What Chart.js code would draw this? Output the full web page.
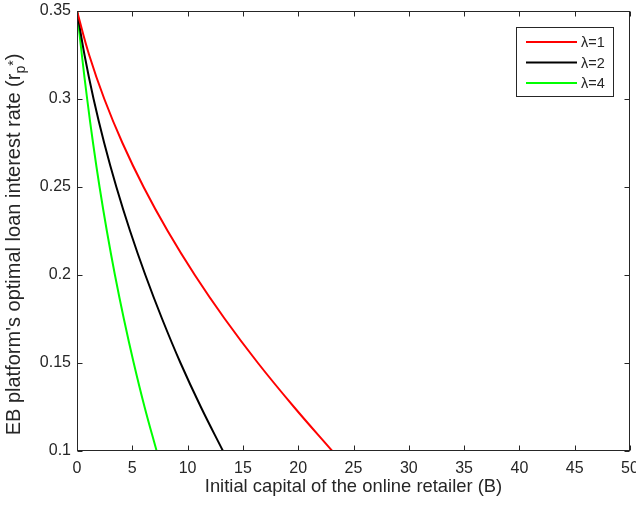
<!DOCTYPE html>
<html>
<head>
<meta charset="utf-8">
<script src="https://cdn.jsdelivr.net/npm/chart.js@4.4.1/dist/chart.umd.min.js"></script>
<style>
html,body{margin:0;padding:0;background:#fff;}
#wrap{width:636px;height:506px;position:relative;}
</style>
</head>
<body>
<div id="wrap"><canvas id="c" width="636" height="506"></canvas></div>
<script>
// ---- data ----
const seriesLabels = ["λ=1", "λ=2", "λ=4"];
const rateLevels   = [0.35, 0.325, 0.3, 0.275, 0.25, 0.225, 0.2, 0.175, 0.15, 0.125, 0.1];
const capitalL1    = [0, 1.10, 2.47, 4.11, 6.02, 8.20, 10.65, 13.37, 16.36, 19.62, 23.08];
const capitalL2    = [0, 0.68, 1.50, 2.46, 3.56, 4.80, 6.18, 7.70, 9.36, 11.20, 13.2];
const capitalL4    = [0, 0.44, 0.92, 1.45, 2.04, 2.70, 3.43, 4.24, 5.13, 6.11, 7.2];
const xTickLabels  = ["0","5","10","15","20","25","30","35","40","45","50"];
const yTickLabels  = ["0.1","0.15","0.2","0.25","0.3","0.35"];
const xTitle = "Initial capital of the online retailer (B)";
const yTitleMain = "EB platform's optimal loan interest rate (r";
const yTitleSub = "p";
const yTitleSup = "*";
const yTitleEnd = ")";

const colors = ["#ff0000", "#000000", "#00ff00"];
const axisColor = "#262626";
const FONT = "'Liberation Sans', Arial, Helvetica, sans-serif";

function pts(xs, ys){ return xs.map((x,i)=>({x:x, y:ys[i]})).sort((a,b)=>a.x-b.x); }

const allCapital = [capitalL1, capitalL2, capitalL4];

const frame = {
  id: 'frame',
  afterDraw(chart){
    const ctx = chart.ctx, a = chart.chartArea;
    const xs = chart.scales.x, ys = chart.scales.y;
    ctx.save();
    ctx.strokeStyle = axisColor; ctx.lineWidth = 1;
    const L = Math.round(a.left)+0.5, R = Math.round(a.right)-0.5, T = Math.round(a.top)+0.5, B = Math.round(a.bottom)-0.5;
    ctx.strokeRect(L, T, R-L, B-T);
    const tl = 5;
    ctx.beginPath();
    xs.ticks.forEach(t=>{
      const p = Math.round(xs.getPixelForValue(t.value))+0.5;
      ctx.moveTo(p,B); ctx.lineTo(p,B-tl);
      ctx.moveTo(p,T); ctx.lineTo(p,T+tl);
    });
    ys.ticks.forEach(t=>{
      const p = Math.round(ys.getPixelForValue(t.value))+0.5;
      ctx.moveTo(L,p); ctx.lineTo(L+tl,p);
      ctx.moveTo(R,p); ctx.lineTo(R-tl,p);
    });
    ctx.stroke();

    // x title
    ctx.fillStyle = axisColor;
    ctx.font = "18.4px " + FONT;
    ctx.textAlign = "center"; ctx.textBaseline = "alphabetic";
    ctx.fillText(xTitle, (a.left+a.right)/2, 492);

    // y title (rotated, with sub/superscript)
    ctx.save();
    ctx.translate(19.5, 244.5);
    ctx.rotate(-Math.PI/2);
    ctx.textAlign = "left";
    const bigF = "20px " + FONT, smallF = "14px " + FONT;
    ctx.font = bigF; const w1 = ctx.measureText(yTitleMain).width; const w4 = ctx.measureText(yTitleEnd).width;
    ctx.font = smallF; const w2 = ctx.measureText(yTitleSub).width; const w3 = ctx.measureText(yTitleSup).width;
    let x0 = -(w1+w2+w3+w4)/2;
    ctx.font = bigF; ctx.fillText(yTitleMain, x0, 0); x0 += w1;
    ctx.font = smallF; ctx.fillText(yTitleSub, x0, 5); x0 += w2;
    ctx.fillText(yTitleSup, x0, -2); x0 += w3;
    ctx.font = bigF; ctx.fillText(yTitleEnd, x0, 0);
    ctx.restore();

    // legend
    const lx = 516.5, ly = 27.5, lw = 97, lh = 69;
    ctx.fillStyle = "#fff"; ctx.fillRect(lx, ly, lw, lh);
    ctx.strokeStyle = axisColor; ctx.lineWidth = 1; ctx.strokeRect(lx, ly, lw, lh);
    const rows = [42, 62.5, 83];
    ctx.font = "14.5px " + FONT; ctx.textAlign = "left"; ctx.textBaseline = "middle";
    seriesLabels.forEach((lab,i)=>{
      ctx.strokeStyle = colors[i]; ctx.lineWidth = 2;
      ctx.beginPath(); ctx.moveTo(526, rows[i]); ctx.lineTo(577, rows[i]); ctx.stroke();
      ctx.fillStyle = axisColor; ctx.fillText(lab, 581, rows[i]+1);
    });
    ctx.restore();
  }
};

new Chart(document.getElementById('c'), {
  type: 'line',
  data: {
    datasets: seriesLabels.map((lab,i)=>({
      label: lab,
      data: pts(allCapital[i], rateLevels),
      borderColor: colors[i],
      borderWidth: 2,
      pointRadius: 0,
      fill: false,
      tension: 0.4
    }))
  },
  options: {
    responsive: false,
    animation: false,
    devicePixelRatio: 1,
    layout: { padding: { top: 11, right: 6, left: 0, bottom: 0 } },
    plugins: { legend: { display: false }, tooltip: { enabled: false } },
    scales: {
      x: {
        type: 'linear', min: 0, max: 50,
        ticks: { stepSize: 5, color: axisColor, font: { family: FONT, size: 16 }, padding: 8, maxRotation: 0,
          callback: (v)=>{ const i = Math.round(v/5); return xTickLabels[i] ?? ''; } },
        grid: { display: false, drawTicks: false },
        border: { display: false },
        afterFit(s){ s.height = 55; s.paddingLeft = 0; s.paddingRight = 0; }
      },
      y: {
        type: 'linear', min: 0.1, max: 0.35,
        ticks: { stepSize: 0.05, color: axisColor, font: { family: FONT, size: 16 }, padding: 6,
          callback: (v)=>{ const i = Math.round((v-0.1)/0.05); return yTickLabels[i] ?? ''; } },
        grid: { display: false, drawTicks: false },
        border: { display: false },
        afterFit(s){ s.width = 77; s.paddingTop = 0; s.paddingBottom = 0; }
      }
    }
  },
  plugins: [frame]
});
</script>
</body>
</html>
